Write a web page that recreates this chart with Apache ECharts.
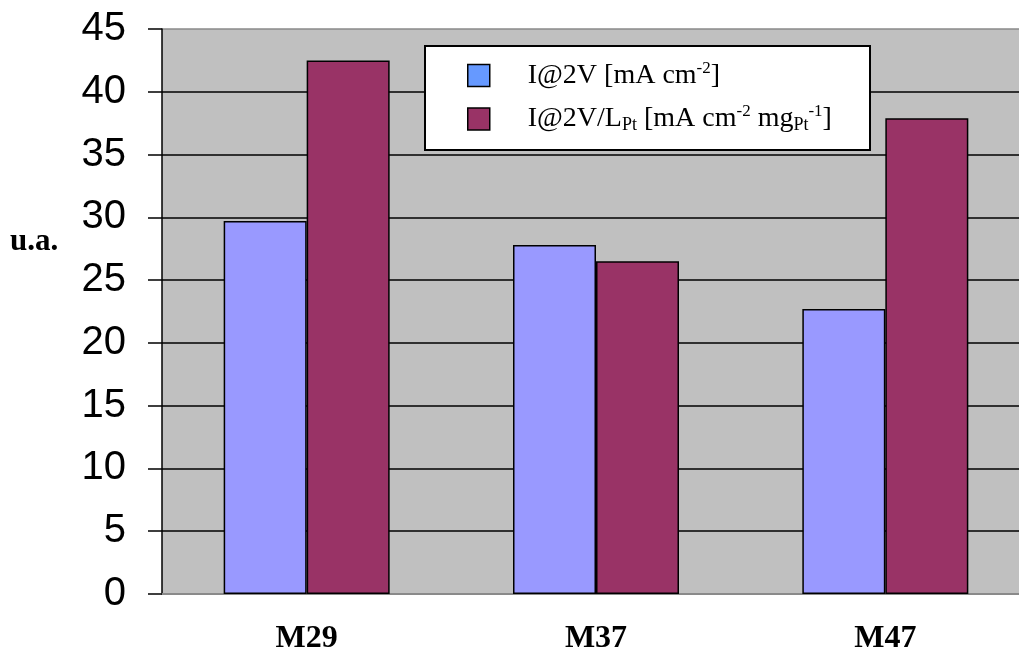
<!DOCTYPE html>
<html>
<head>
<meta charset="utf-8">
<script src="https://cdn.jsdelivr.net/npm/echarts@6/dist/echarts.min.js"></script>
<style>
  html, body { margin: 0; padding: 0; background: #fff; }
  #chart { width: 1019px; height: 652px; }
</style>
</head>
<body>
<div id="chart"></div>
<script>
// Samples and measured values
const categories = ['M29', 'M37', 'M47'];
const currentDensity = [29.7, 27.8, 22.7];   // I@2V [mA cm-2]
const massActivity = [42.5, 26.5, 37.9];     // I@2V/LPt [mA cm-2 mgPt-1]
const seriesNames = ['I@2V [mA cm-2]', 'I@2V/LPt [mA cm-2 mgPt-1]'];
const yMin = 0, yMax = 45, yStep = 5;

// Legend labels with super/subscripts as rich text
const legendLabels = {
  [seriesNames[0]]: '{g| }{t|I@2V [mA cm}{sup|-2}{t|]}',
  [seriesNames[1]]: '{g| }{t|I@2V/L}{sub|Pt}{t| [mA cm}{sup|-2}{t| mg}{sub|Pt}{sup|-1}{t|]}'
};

const serif = 'Liberation Serif';
const chart = echarts.init(document.getElementById('chart'));

// Grid line colours: outer edges grey, inner lines black
const splitColors = [];
for (let v = yMin; v <= yMax; v += yStep) {
  splitColors.push(v === yMin || v === yMax ? '#8a8a8a' : '#000000');
}

chart.setOption({
  animation: false,
  backgroundColor: '#ffffff',
  grid: {
    left: 162, width: 868, top: 29, bottom: 58,
    containLabel: false, outerBoundsMode: 'none',
    show: true, backgroundColor: '#c0c0c0', borderWidth: 0
  },
  graphic: [
    {
      type: 'rect', z: 50,
      shape: { x: 425, y: 46, width: 445, height: 104 },
      style: { fill: '#ffffff', stroke: '#000000', lineWidth: 2 }
    },
    {
      type: 'text', z: 50, left: 10, top: 226,
      style: { text: 'u.a.', font: 'bold 31px "Liberation Serif"', fill: '#000' }
    }
  ],
  legend: {
    z: 60,
    orient: 'vertical',
    left: 467, top: 60,
    padding: 0,
    itemGap: 14,
    itemWidth: 22, itemHeight: 22,
    icon: 'rect',
    data: [
      { name: seriesNames[0], itemStyle: { color: '#6699ff', borderColor: '#000', borderWidth: 1.5 } },
      { name: seriesNames[1], itemStyle: { color: '#993366', borderColor: '#000', borderWidth: 1.5 } }
    ],
    formatter: name => legendLabels[name],
    textStyle: {
      rich: {
        g: { width: 33, fontSize: 28, lineHeight: 31 },
        t: { fontFamily: serif, fontSize: 28, lineHeight: 31, color: '#000' },
        sup: { fontFamily: serif, fontSize: 17, lineHeight: 17, verticalAlign: 'top', color: '#000' },
        sub: { fontFamily: serif, fontSize: 18, lineHeight: 18, verticalAlign: 'bottom', color: '#000' }
      }
    }
  },
  xAxis: {
    type: 'category',
    data: categories,
    axisLine: { lineStyle: { color: '#8a8a8a', width: 2 } },
    axisTick: { show: false },
    axisLabel: {
      margin: 29,
      fontFamily: serif, fontWeight: 'bold', fontSize: 32, color: '#000'
    },
    splitLine: { show: false }
  },
  yAxis: {
    type: 'value',
    min: yMin, max: yMax, interval: yStep,
    axisLine: { show: true, lineStyle: { color: '#000', width: 1.5 } },
    axisTick: { show: true, length: 14, lineStyle: { color: '#000', width: 1.5 } },
    axisLabel: {
      margin: 36,
      fontFamily: 'Liberation Sans', fontSize: 40, color: '#000'
    },
    splitLine: { show: true, lineStyle: { color: splitColors, width: 1.5 } }
  },
  series: [
    {
      name: seriesNames[0], type: 'bar', data: currentDensity,
      barWidth: 83, barGap: '0%',
      itemStyle: { color: '#9999ff', borderColor: '#000', borderWidth: 1.5 }
    },
    {
      name: seriesNames[1], type: 'bar', data: massActivity,
      barWidth: 83, barGap: '0%',
      itemStyle: { color: '#993366', borderColor: '#000', borderWidth: 1.5 }
    }
  ]
});
</script>
</body>
</html>
